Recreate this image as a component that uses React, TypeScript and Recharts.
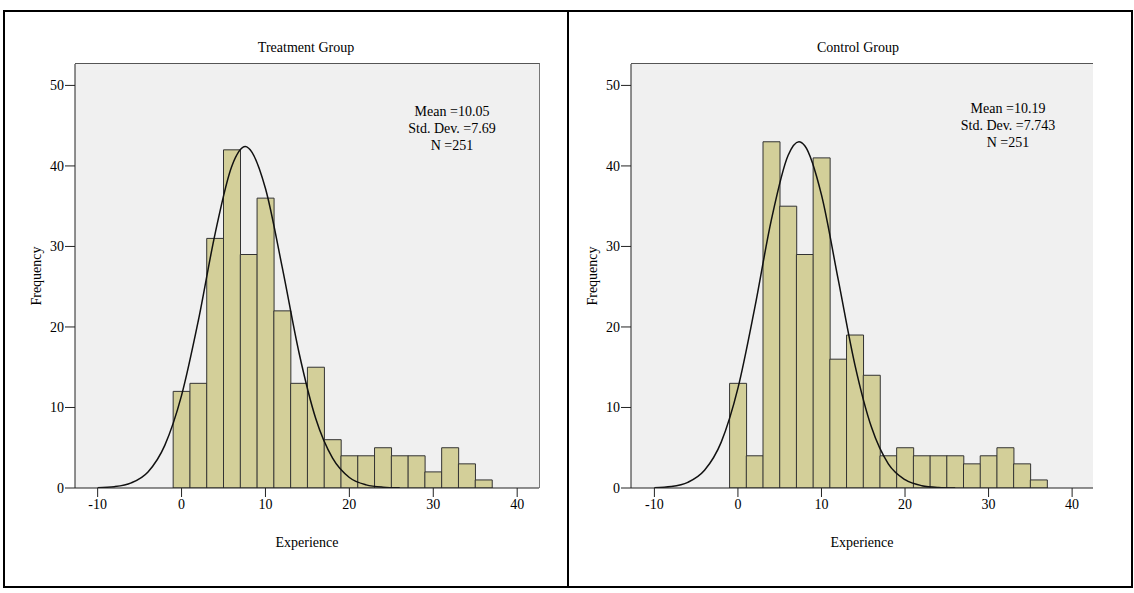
import { ComposedChart, Bar, Line, XAxis, YAxis, CartesianGrid } from "recharts";

// bins are 2 wide, centred on even values (-1..1, 1..3, ... 35..37)
const BIN_CENTERS = [0, 2, 4, 6, 8, 10, 12, 14, 16, 18, 20, 22, 24, 26, 28, 30, 32, 34, 36];
const TREATMENT_COUNTS = [12, 13, 31, 42, 29, 36, 22, 13, 15, 6, 4, 4, 5, 4, 4, 2, 5, 3, 1];
const CONTROL_COUNTS = [13, 4, 43, 35, 29, 41, 16, 19, 14, 4, 5, 4, 4, 4, 3, 4, 5, 3, 1];

// normal curve
const TREATMENT_CURVE_X = [-10, -8, -6, -4, -2, 0, 2, 4, 6, 7.6, 8, 10, 12, 14, 16, 18, 20, 22, 24, 26];
const TREATMENT_CURVE_Y = [0.04, 0.17, 0.64, 2.0, 5.3, 11.5, 20.8, 31.6, 40.0, 42.4, 42.2, 37.2, 27.4, 16.8, 8.6, 3.7, 1.3, 0.39, 0.1, 0.02];
const CONTROL_CURVE_X = [-10, -8, -6, -4, -2, 0, 2, 4, 6, 7.3, 8, 10, 12, 14, 16, 18, 20, 22, 24, 26];
const CONTROL_CURVE_Y = [0.04, 0.18, 0.7, 2.2, 5.7, 12.4, 22.3, 33.3, 41.3, 43.0, 42.5, 36.4, 25.9, 15.3, 7.5, 3.0, 1.03, 0.29, 0.07, 0.01];

const X_TICKS = [-10, 0, 10, 20, 30, 40];
const Y_TICKS = [0, 10, 20, 30, 40, 50];
const Y_MAX = 52.66;

const TREATMENT_STATS = ["Mean =10.05", "Std. Dev. =7.69", "N =251"];
const CONTROL_STATS = ["Mean =10.19", "Std. Dev. =7.743", "N =251"];

const FONT = "'Liberation Serif', 'DejaVu Serif', serif";
const FONT_SIZE = 14;
const CHART_H = 593;

type PanelProps = {
  title: string;
  counts: number[];
  curveX: number[];
  curveY: number[];
  xDomain: [number, number];
  stats: string[];
  left: number;
  width: number;
  margin: { top: number; right: number; left: number; bottom: number };
  titleX: number;
  statsX: number;
  statsY: number;
  rightBorder: boolean;
};

const Y_AXIS_W = 45;
const X_AXIS_H = 60;

function HistogramPanel(p: PanelProps) {
  const bins = BIN_CENTERS.map((x, i) => ({ x, count: p.counts[i] }));
  const curve = p.curveX.map((x, i) => ({ x, y: p.curveY[i] }));
  const tickStyle = { fill: "#000", fontSize: FONT_SIZE, fontFamily: FONT };

  // plot box, used for the thin frame on top/right
  const plotLeft = p.left + p.margin.left + Y_AXIS_W;
  const plotTop = p.margin.top;
  const plotW = p.width - p.margin.left - Y_AXIS_W - p.margin.right;
  const plotH = CHART_H - p.margin.top - p.margin.bottom - X_AXIS_H;

  return (
    <>
      <div style={{ position: "absolute", left: p.left, top: 0 }}>
        <ComposedChart width={p.width} height={CHART_H} data={bins} margin={p.margin} barCategoryGap={0} barGap={0}>
          <CartesianGrid horizontal={false} vertical={false} fill="#f0f0f0" />
          <XAxis
            xAxisId="bins"
            dataKey="x"
            type="number"
            domain={p.xDomain}
            allowDataOverflow
            ticks={X_TICKS}
            interval={0}
            height={X_AXIS_H}
            tickSize={9}
            tickMargin={2}
            stroke="#222"
            tick={tickStyle}
            label={{ value: "Experience", position: "insideBottom", offset: 1, fill: "#000", fontSize: FONT_SIZE, fontFamily: FONT }}
          />
          <XAxis xAxisId="curve" dataKey="x" type="number" domain={p.xDomain} allowDataOverflow hide />
          <YAxis
            type="number"
            domain={[0, Y_MAX]}
            allowDataOverflow
            ticks={Y_TICKS}
            interval={0}
            width={Y_AXIS_W}
            tickSize={10}
            tickMargin={1}
            stroke="#222"
            tick={tickStyle}
            label={{
              value: "Frequency",
              angle: -90,
              position: "insideLeft",
              offset: 6,
              fill: "#000",
              fontSize: FONT_SIZE,
              fontFamily: FONT,
              style: { textAnchor: "middle" },
            }}
          />
          <Bar xAxisId="bins" dataKey="count" fill="#d3cf99" stroke="#333" strokeWidth={1} isAnimationActive={false} />
          <Line
            xAxisId="curve"
            data={curve}
            dataKey="y"
            type="monotone"
            stroke="#111"
            strokeWidth={1.5}
            dot={false}
            activeDot={false}
            isAnimationActive={false}
          />
        </ComposedChart>
      </div>
      <div
        style={{
          position: "absolute",
          left: plotLeft,
          top: plotTop - 1,
          width: plotW + (p.rightBorder ? 1 : 0),
          height: plotH + 1,
          borderTop: "1px solid #555",
          borderRight: p.rightBorder ? "1px solid #777" : "none",
          boxSizing: "border-box",
          pointerEvents: "none",
        }}
      />
      <div style={{ position: "absolute", left: p.titleX - 100, top: 39, width: 200, textAlign: "center", fontFamily: FONT, fontSize: FONT_SIZE, lineHeight: "17px" }}>
        {p.title}
      </div>
      <div style={{ position: "absolute", left: p.statsX - 70, top: p.statsY, width: 140, textAlign: "center", fontFamily: FONT, fontSize: FONT_SIZE, lineHeight: "17px" }}>
        {p.stats.map((s) => (
          <div key={s}>{s}</div>
        ))}
      </div>
    </>
  );
}

export default function App() {
  return (
    <div style={{ position: "absolute", left: 0, top: 0, width: 1134, height: 593, background: "#fff", overflow: "hidden" }}>
      <div style={{ position: "absolute", left: 3, top: 10, width: 1130, height: 578, border: "2px solid #000", boxSizing: "border-box" }} />
      <div style={{ position: "absolute", left: 567, top: 10, width: 2, height: 578, background: "#000" }} />
      <HistogramPanel
        title="Treatment Group"
        counts={TREATMENT_COUNTS}
        curveX={TREATMENT_CURVE_X}
        curveY={TREATMENT_CURVE_Y}
        xDomain={[-12.7, 42.6]}
        stats={TREATMENT_STATS}
        left={0}
        width={568}
        margin={{ top: 64, right: 29, left: 30, bottom: 45 }}
        titleX={306}
        statsX={452}
        statsY={103}
        rightBorder
      />
      <HistogramPanel
        title="Control Group"
        counts={CONTROL_COUNTS}
        curveX={CONTROL_CURVE_X}
        curveY={CONTROL_CURVE_Y}
        xDomain={[-12.8, 42.5]}
        stats={CONTROL_STATS}
        left={570}
        width={562}
        margin={{ top: 64, right: 39, left: 16, bottom: 45 }}
        titleX={858}
        statsX={1008}
        statsY={100}
        rightBorder={false}
      />
    </div>
  );
}
